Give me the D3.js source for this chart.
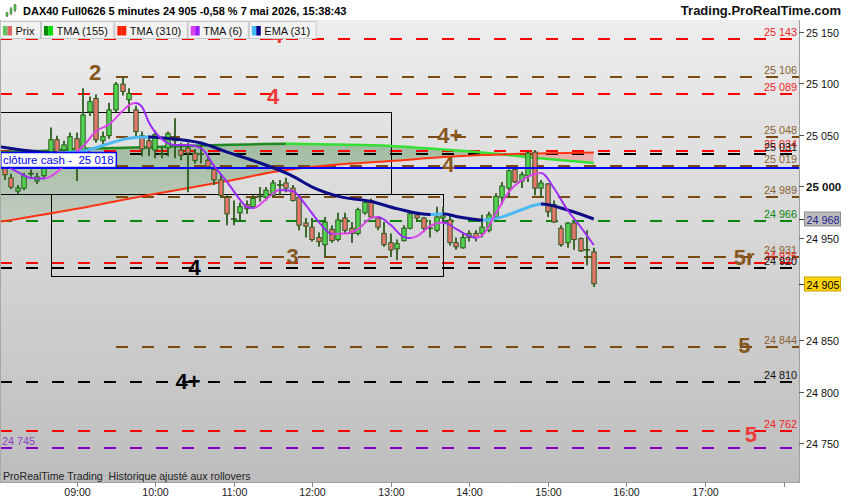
<!DOCTYPE html>
<html>
<head>
<meta charset="utf-8">
<script src="https://cdn.jsdelivr.net/npm/d3@7"></script>
<style>
  html, body { margin: 0; padding: 0; background: #fff; }
  svg { display: block; font-family: "Liberation Sans", Arial, sans-serif; }
</style>
</head>
<body>
<svg id="chart" width="850" height="500"></svg>
<script>
// 5 minute bars, DAX40 Full0626
const barTime = ["08:05","08:10","08:15","08:20","08:25","08:30","08:35","08:40","08:45","08:50","08:55",
  "09:00","09:05","09:10","09:15","09:20","09:25","09:30","09:35","09:40","09:45","09:50","09:55",
  "10:00","10:05","10:10","10:15","10:20","10:25","10:30","10:35","10:40","10:45","10:50","10:55",
  "11:00","11:05","11:10","11:15","11:20","11:25","11:30","11:35","11:40","11:45","11:50","11:55",
  "12:00","12:05","12:10","12:15","12:20","12:25","12:30","12:35","12:40","12:45","12:50","12:55",
  "13:00","13:05","13:10","13:15","13:20","13:25","13:30","13:35","13:40","13:45","13:50","13:55",
  "14:00","14:05","14:10","14:15","14:20","14:25","14:30","14:35","14:40","14:45","14:50","14:55",
  "15:00","15:05","15:10","15:15","15:20","15:25","15:30","15:35"];
const barOpen = [25017,25008,24995,24998,25012,25005,25010,25020,25045,25035,25028,
  25046,25035,25072,25085,25044,25049,25074,25099,25084,25074,25049,25044,
  25035,25031,25037,25047,25035,25037,25032,25031,25025,25016,25006,24989,
  24968,24974,24982,24980,24990,24989,24991,25001,25003,24998,24989,24964,
  24960,24950,24943,24958,24948,24969,24959,24954,24974,24986,24969,24954,
  24945,24939,24947,24959,24972,24969,24959,24957,24969,24967,24945,24940,
  24950,24954,24954,24957,24970,24989,24998,25016,25005,25010,25033,24998,
  25002,24982,24959,24945,24964,24949,24938,24936];
const barHigh = [25020,25012,25001,25013,25016,25013,25020,25057,25049,25044,25052,
  25052,25095,25087,25089,25053,25081,25101,25106,25095,25078,25053,25049,
  25054,25038,25053,25066,25042,25042,25036,25040,25029,25020,25011,24991,
  24986,24984,24986,24991,24999,24999,25006,25006,25008,25001,24991,24969,
  24969,24955,24970,24962,24974,24974,24965,24979,24986,24988,24970,24965,
  24954,24948,24962,24974,24974,24970,24967,24980,24980,24971,24950,24955,
  24957,24957,24972,24975,24993,25004,25016,25018,25014,25033,25035,25006,
  25003,24986,24962,24965,24965,24950,24957,24940];
const barLow = [25006,24997,24992,24996,25009,25002,25008,25018,25029,25029,25025,
  25005,25032,25068,25042,25040,25046,25072,25088,25072,25047,25029,25029,
  25027,25027,25029,25027,25025,24994,25022,25022,25016,25001,24989,24962,
  24962,24965,24973,24978,24985,24986,24989,24991,24994,24985,24957,24950,
  24946,24941,24931,24945,24946,24954,24945,24952,24972,24968,24957,24941,
  24931,24928,24946,24958,24965,24955,24950,24955,24965,24942,24938,24939,
  24946,24946,24950,24955,24968,24982,24989,25003,24998,25004,24991,24989,
  24970,24964,24941,24940,24938,24936,24923,24902];
const barClose = [25011,24999,24998,25010,25012,25009,25018,25045,25033,25040,25048,
  25033,25069,25082,25045,25048,25074,25099,25092,25090,25053,25036,25037,
  25050,25032,25051,25044,25030,25032,25025,25031,25019,25006,24991,24973,
  24967,24980,24978,24988,24990,24996,25003,25001,24998,24986,24962,24961,
  24948,24946,24965,24947,24967,24957,24954,24977,24984,24970,24960,24943,
  24938,24944,24959,24973,24969,24959,24959,24970,24971,24945,24941,24950,
  24954,24950,24960,24972,24990,25000,25015,25004,25011,25032,24998,25003,
  24975,24965,24943,24964,24948,24937,24938,24905];

// indicators
const tma155Time  = ["08:00","08:30","09:00","10:00","10:50","11:40","12:15","13:00","13:40","14:25","15:00","15:35"];
const tma155Value = [25033,25034,25036,25038,25040,25041,25040.5,25039,25035.5,25030.8,25026.2,25022.4];
const tma310Time  = ["08:00","08:55","09:55","10:55","11:35","12:15","13:00","13:40","14:10","14:50","15:35"];
const tma310Value = [24965,24976.7,24991.3,25004.9,25014.6,25020.4,25024.3,25028.2,25030.1,25031.6,25032.6];
const ema31Time  = ["08:00","08:25","08:45","09:05","09:25","09:40","09:55","10:10","10:35","10:55","11:20","11:45",
  "12:00","12:20","12:45","13:05","13:30","13:40","13:50","14:05","14:10","14:25","14:40","14:55","15:15","15:35"];
const ema31Value = [25038.5,25034,25032,25034,25041.5,25046.5,25047.6,25046.3,25041.8,25033,25022.4,25009.7,
  24999,24990,24985,24978,24972.3,24973,24970.5,24967.5,24966.8,24970,24977,24982.5,24976.7,24968];
const tma6Time  = ["08:00","08:15","08:25","08:35","08:45","08:55","09:05","09:15","09:25","09:35","09:40","09:45",
  "09:50","09:55","10:05","10:15","10:25","10:35","10:45","10:55","11:05","11:10","11:15","11:25","11:35","11:45",
  "11:55","12:05","12:15","12:25","12:35","12:45","12:50","13:00","13:10","13:15","13:20","13:30","13:40","13:50",
  "14:00","14:05","14:10","14:20","14:30","14:40","14:50","14:55","15:05","15:15","15:25","15:35"];
const tma6Value = [25024.3,25013.6,25007.8,25007.3,25013.6,25027.2,25038.9,25053.4,25060.2,25072.9,25078.7,25080.7,
  25076.8,25062.2,25045.7,25039.9,25039.9,25036.9,25019.4,25003.9,24986.4,24979.6,24978.6,24987.4,24996.1,24995.1,
  24981.5,24965,24953.4,24953.8,24958.2,24968.9,24969.9,24962.1,24950.4,24949.5,24951.4,24961.1,24964.5,24958.2,
  24951.4,24949.5,24952.4,24972.8,24994.2,25005.8,25011.7,25012.6,24997.1,24976.7,24960.2,24942.7];

// horizontal levels
const levelPrice = [25143,25106,25089,25048,25034,25031,25019,24989,24966,24931,24925,24920,24844,24810,24762,24745];
const levelKind  = ["red","brown","red","brown","red","black","brown","brown","green","brown","red","black","brown","black","red","purple"];
const levelFrom  = [null,"09:30",null,"09:30",null,null,"09:30","09:30",null,"09:30",null,null,"09:30",null,null,null];
const levelSide  = ["right","right","right","right","right","right","right","right","right","right","right","right","right","right","right","left"];

const tagText  = ["4","2","4","4+","4","3","4","5r","5","4+","5"];
const tagTime  = ["11:33","09:14","11:30","13:45","13:44","11:45","10:30","17:30","17:30","10:25","17:35"];
const tagPrice = [25146,25110,25087,25049.6,25021,24932,24920.4,24931,24844.6,24810.5,24758.3];
const tagKind  = ["red","brown","red","brown","brown","brown","black","brown","brown","black","red"];

const cashClose = 25018;

const boxFrom   = ["07:55","08:40"];
const boxTo     = ["13:00","13:40"];
const boxTop    = [25072,24992];
const boxBottom = [24992,24913];

const xTicks = ["09:00","10:00","11:00","12:00","13:00","14:00","15:00","16:00","17:00","18:00"];
const xTickLabels = ["09:00","10:00","11:00","12:00","13:00","14:00","15:00","16:00","17:00",""];
const yTicks = [25150,25100,25050,25000,24950,24850,24800,24750];

const legendNames = ["Prix","TMA (155)","TMA (310)","TMA (6)","EMA (31)"];
const legendColA  = ["#5cc55c","#008a00","#ff2200","#dd3ff0","#44bbff"];
const legendColB  = ["#e06666","#00e000","#ff2200","#9a1cff","#00008a"];

const lineColors  = {red: "#ff0000", brown: "#7b4a12", black: "#000000", green: "#0a860a", purple: "#8400c4"};
const labelColors = {red: "#f02424", brown: "#8a6234", black: "#111111", green: "#0a860a", purple: "#9040c8"};
const tagColors   = {red: "#ee3a3a", brown: "#87561c", black: "#000000"};

// ---------------------------------------------------------------
const plot = {left: 0, right: 799, top: 20, bottom: 482};
const svg = d3.select('#chart');
const defs = svg.append('defs');

const toMin = s => { const p = s.split(':'); return +p[0] * 60 + +p[1]; };
const fmt = d3.formatLocale({decimal: ",", thousands: " ", grouping: [3], currency: ["", ""]}).format(",d");

const x = d3.scaleLinear().domain([toMin("09:00"), toMin("17:00")]).range([76.7, 705]);
const y = d3.scaleLinear().domain([24750, 25150]).range([443.3, 31.7]);
const curve = d3.curveMonotoneX;

// page background
svg.append('rect').attr('width', 850).attr('height', 500).attr('fill', '#fff');

let bg = defs.append('linearGradient').attr('id', 'bg-grad')
  .attr('gradientUnits', 'userSpaceOnUse')
  .attr('x1', 0).attr('x2', 0).attr('y1', plot.top).attr('y2', plot.bottom);
bg.append('stop').attr('offset', 0).attr('stop-color', '#ededed');
bg.append('stop').attr('offset', 1).attr('stop-color', '#bdbdbd');

svg.append('rect')
  .attr('x', plot.left).attr('y', plot.top)
  .attr('width', plot.right - plot.left).attr('height', plot.bottom - plot.top)
  .attr('fill', 'url(#bg-grad)');

defs.append('clipPath').attr('id', 'plot-clip').append('rect')
  .attr('x', plot.left).attr('y', plot.top)
  .attr('width', plot.right - plot.left).attr('height', plot.bottom - plot.top);

const g = svg.append('g').attr('clip-path', 'url(#plot-clip)');

// fill between TMA 155 and TMA 310
const fastPts = tma155Time.map((t, i) => [x(toMin(t)), y(tma155Value[i])]);
const slowPts = tma310Time.map((t, i) => [x(toMin(t)), y(tma310Value[i])]);

let fg = defs.append('linearGradient').attr('id', 'fill-grad')
  .attr('gradientUnits', 'userSpaceOnUse')
  .attr('x1', 0).attr('x2', 0).attr('y1', 140).attr('y2', 225);
fg.append('stop').attr('offset', 0).attr('stop-color', '#2a7a2a').attr('stop-opacity', 0.36);
fg.append('stop').attr('offset', 1).attr('stop-color', '#2a7a2a').attr('stop-opacity', 0.12);

defs.append('clipPath').attr('id', 'above-slow').append('path')
  .attr('d', d3.area().x(d => d[0]).y0(plot.top).y1(d => d[1]).curve(curve)(slowPts));
defs.append('clipPath').attr('id', 'below-slow').append('path')
  .attr('d', d3.area().x(d => d[0]).y0(d => d[1]).y1(plot.bottom).curve(curve)(slowPts));

g.append('path')
  .attr('d', d3.area().x(d => d[0]).y0(d => d[1]).y1(plot.bottom).curve(curve)(fastPts))
  .attr('fill', 'url(#fill-grad)')
  .attr('clip-path', 'url(#above-slow)');
g.append('path')
  .attr('d', d3.area().x(d => d[0]).y0(plot.top).y1(d => d[1]).curve(curve)(fastPts))
  .attr('fill', 'rgba(255,90,90,0.35)')
  .attr('clip-path', 'url(#below-slow)');

// dashed levels
levelPrice.forEach((p, i) => {
  const x0 = levelFrom[i] ? x(toMin(levelFrom[i])) : plot.left;
  const yy = Math.round(y(p));
  g.append('line')
    .attr('x1', x0).attr('x2', plot.right)
    .attr('y1', yy).attr('y2', yy)
    .attr('stroke', lineColors[levelKind[i]])
    .attr('stroke-width', 2)
    .attr('stroke-dasharray', '12,14');
});

// range boxes
boxFrom.forEach((t, i) => {
  const x0 = Math.round(x(toMin(t))) + 0.5, x1 = Math.round(x(toMin(boxTo[i]))) + 0.5;
  const y0 = Math.round(y(boxTop[i])) + 0.5, y1 = Math.round(y(boxBottom[i])) + 0.5;
  g.append('rect')
    .attr('x', x0).attr('y', y0).attr('width', x1 - x0).attr('height', y1 - y0)
    .attr('fill', 'none').attr('stroke', '#000').attr('stroke-width', 1);
});

// line with a colour for rising parts and another for falling parts
function twoTone(times, values, upColor, downColor, width, id) {
  const pts = times.map((t, i) => [x(toMin(t)), y(values[i])]);
  const d = d3.line().curve(curve)(pts);
  ['up', 'down'].forEach(dir => {
    const cp = defs.append('clipPath').attr('id', id + '-' + dir);
    for (let i = 0; i < pts.length - 1; i++) {
      const rising = values[i + 1] > values[i];
      if ((dir === 'up') !== rising) continue;
      const xa = i === 0 ? pts[i][0] - 10 : pts[i][0] - 0.4;
      const xb = i === pts.length - 2 ? pts[i + 1][0] + 10 : pts[i + 1][0] + 0.4;
      cp.append('rect').attr('x', xa).attr('width', xb - xa).attr('y', 0).attr('height', 500);
    }
    g.append('path').attr('d', d)
      .attr('fill', 'none')
      .attr('stroke', dir === 'up' ? upColor : downColor)
      .attr('stroke-width', width)
      .attr('stroke-linejoin', 'round')
      .attr('clip-path', `url(#${id}-${dir})`);
  });
}

twoTone(tma155Time, tma155Value, '#1f8a1f', '#33e033', 2.5, 'tma155');
g.append('path').attr('d', d3.line().curve(curve)(slowPts))
  .attr('fill', 'none').attr('stroke', '#ff3414').attr('stroke-width', 2);

// candles
const body = 4.4;
barTime.forEach((t, i) => {
  const cx = Math.round(x(toMin(t)));
  const yo = y(barOpen[i]), yc = y(barClose[i]);
  const up = barClose[i] > barOpen[i];
  g.append('line')
    .attr('x1', cx).attr('x2', cx)
    .attr('y1', y(barHigh[i])).attr('y2', y(barLow[i]))
    .attr('stroke', '#2c5c1c').attr('stroke-width', 1.8);
  if (Math.abs(yo - yc) < 1.2) {
    g.append('line')
      .attr('x1', cx - 3).attr('x2', cx + 3)
      .attr('y1', yo).attr('y2', yo)
      .attr('stroke', '#2c5c1c').attr('stroke-width', 1.6);
  } else {
    g.append('rect')
      .attr('x', cx - body / 2).attr('width', body)
      .attr('y', Math.min(yo, yc)).attr('height', Math.abs(yo - yc))
      .attr('fill', up ? '#52d452' : '#e8766e')
      .attr('stroke', '#2c5c1c').attr('stroke-width', 1);
  }
});

// cash close line
const cashY = Math.round(y(cashClose));
g.append('line').attr('x1', plot.left).attr('x2', plot.right)
  .attr('y1', cashY).attr('y2', cashY)
  .attr('stroke', '#0000ff').attr('stroke-width', 2);

twoTone(ema31Time, ema31Value, '#4cb8f4', '#0c0c86', 3, 'ema31');
twoTone(tma6Time, tma6Value, '#dd44ec', '#9a2cf6', 2, 'tma6');

// level tags
tagText.forEach((s, i) => {
  g.append('text')
    .attr('x', x(toMin(tagTime[i])))
    .attr('y', y(tagPrice[i]))
    .attr('text-anchor', 'middle')
    .attr('dominant-baseline', 'central')
    .attr('font-size', 22).attr('font-weight', 'bold')
    .attr('fill', tagColors[tagKind[i]])
    .text(s);
});

// level price labels
levelPrice.forEach((p, i) => {
  const left = levelSide[i] === 'left';
  g.append('text')
    .attr('x', left ? 2 : 797)
    .attr('y', Math.round(y(p)) - 3.5)
    .attr('text-anchor', left ? 'start' : 'end')
    .attr('font-size', 10.8)
    .attr('fill', labelColors[levelKind[i]])
    .text(fmt(p));
});

// cash close label
const cashLabel = svg.append('g');
const cashText = cashLabel.append('text')
  .attr('x', 3).attr('y', cashY - 4)
  .attr('font-size', 11.5).attr('fill', '#0000ff')
  .style('white-space', 'pre')
  .text('clôture cash -  ' + fmt(cashClose));
const cw = cashText.node().getComputedTextLength();
cashLabel.insert('rect', 'text')
  .attr('x', 0.75).attr('y', cashY - 15.5)
  .attr('width', cw + 5).attr('height', 15)
  .attr('fill', '#fff').attr('stroke', '#0000ff').attr('stroke-width', 1.5);

// frame
svg.append('line').attr('x1', 0.5).attr('x2', 0.5).attr('y1', plot.top).attr('y2', plot.bottom)
  .attr('stroke', '#a8a8a8');
svg.append('line').attr('x1', plot.right + 0.5).attr('x2', plot.right + 0.5).attr('y1', 0).attr('y2', plot.bottom)
  .attr('stroke', '#a0a0a0');
svg.append('line').attr('x1', 0).attr('x2', plot.right + 1).attr('y1', plot.bottom + 0.5).attr('y2', plot.bottom + 0.5)
  .attr('stroke', '#a0a0a0');

svg.append('text')
  .attr('x', 3).attr('y', 480)
  .attr('font-size', 10.6).attr('fill', '#222')
  .style('white-space', 'pre')
  .text('ProRealTime Trading  Historique ajusté aux rollovers');

// x axis
xTicks.forEach((t, i) => {
  const xx = Math.round(x(toMin(t))) + 0.5;
  svg.append('line').attr('x1', xx).attr('x2', xx)
    .attr('y1', plot.bottom).attr('y2', plot.bottom + 5)
    .attr('stroke', '#888');
  svg.append('text')
    .attr('x', xx).attr('y', 496)
    .attr('text-anchor', 'middle')
    .attr('font-size', 10.6).attr('fill', '#222')
    .text(xTickLabels[i]);
});

// y axis
yTicks.forEach(v => {
  const yy = Math.round(y(v)) + 0.5;
  svg.append('line').attr('x1', plot.right).attr('x2', plot.right + 5)
    .attr('y1', yy).attr('y2', yy).attr('stroke', '#555');
  svg.append('text')
    .attr('x', 806).attr('y', yy)
    .attr('dominant-baseline', 'central')
    .attr('font-size', v === 25000 ? 11.5 : 10.8)
    .attr('font-weight', v === 25000 ? 'bold' : 'normal')
    .attr('fill', '#111')
    .text(fmt(v));
});

function priceTag(v, fill, stroke, color) {
  const yy = Math.round(y(v)) + 0.5;
  svg.append('line').attr('x1', plot.right).attr('x2', plot.right + 5)
    .attr('y1', yy).attr('y2', yy).attr('stroke', '#333');
  svg.append('rect').attr('x', 804.5).attr('y', yy - 7.5)
    .attr('width', 36).attr('height', 14)
    .attr('fill', fill).attr('stroke', stroke);
  svg.append('text').attr('x', 806.5).attr('y', yy)
    .attr('dominant-baseline', 'central')
    .attr('font-size', 10.8).attr('fill', color)
    .text(fmt(v));
}
priceTag(ema31Value[ema31Value.length - 1], '#bcbcbc', '#8e8e8e', '#1c1c8c');
priceTag(barClose[barClose.length - 1], '#ffd20a', '#c9a100', '#000');

// legend tabs
let lx = 0;
legendNames.forEach((name, i) => {
  const tab = svg.append('g');
  const txt = tab.append('text')
    .attr('x', lx + 15.5).attr('y', 34.5)
    .attr('font-size', 11).attr('fill', '#111')
    .text(name);
  const tw = txt.node().getComputedTextLength() + 21;
  tab.insert('rect', 'text')
    .attr('x', lx + 0.5).attr('y', 21.5).attr('width', tw).attr('height', 17)
    .attr('fill', '#f3f3f3').attr('stroke', '#c6c6c6');
  tab.append('rect').attr('x', lx + 3).attr('y', 26).attr('width', 4.5).attr('height', 9.5)
    .attr('fill', legendColA[i]);
  tab.append('rect').attr('x', lx + 7.5).attr('y', 26).attr('width', 4.5).attr('height', 9.5)
    .attr('fill', legendColB[i]);
  lx += tw + 1;
});

// title bar
svg.append('rect').attr('width', 850).attr('height', plot.top).attr('fill', '#fff');
const icon = svg.append('g').attr('transform', 'translate(5,4)');
[[1, 8, 13, 9, 12], [5, 3, 11, 5, 9], [9, 0, 8, 1, 6]].forEach(c => {
  icon.append('line').attr('x1', c[0] + 1).attr('x2', c[0] + 1).attr('y1', c[1]).attr('y2', c[2])
    .attr('stroke', '#2c5c1c').attr('stroke-width', 1);
  icon.append('rect').attr('x', c[0]).attr('y', c[3]).attr('width', 2).attr('height', c[4] - c[3])
    .attr('fill', '#56d656').attr('stroke', '#2c5c1c').attr('stroke-width', 0.5);
});
svg.append('text')
  .attr('x', 23).attr('y', 15)
  .attr('font-size', 11).attr('font-weight', 'bold').attr('fill', '#000')
  .text('DAX40 Full0626 5 minutes ' + fmt(barClose[barClose.length - 1]) + ' -0,58 % 7 mai 2026, 15:38:43');
svg.append('text')
  .attr('x', 841).attr('y', 15)
  .attr('text-anchor', 'end')
  .attr('font-size', 13).attr('font-weight', 'bold').attr('fill', '#111')
  .text('Trading.ProRealTime.com');
</script>
</body>
</html>
